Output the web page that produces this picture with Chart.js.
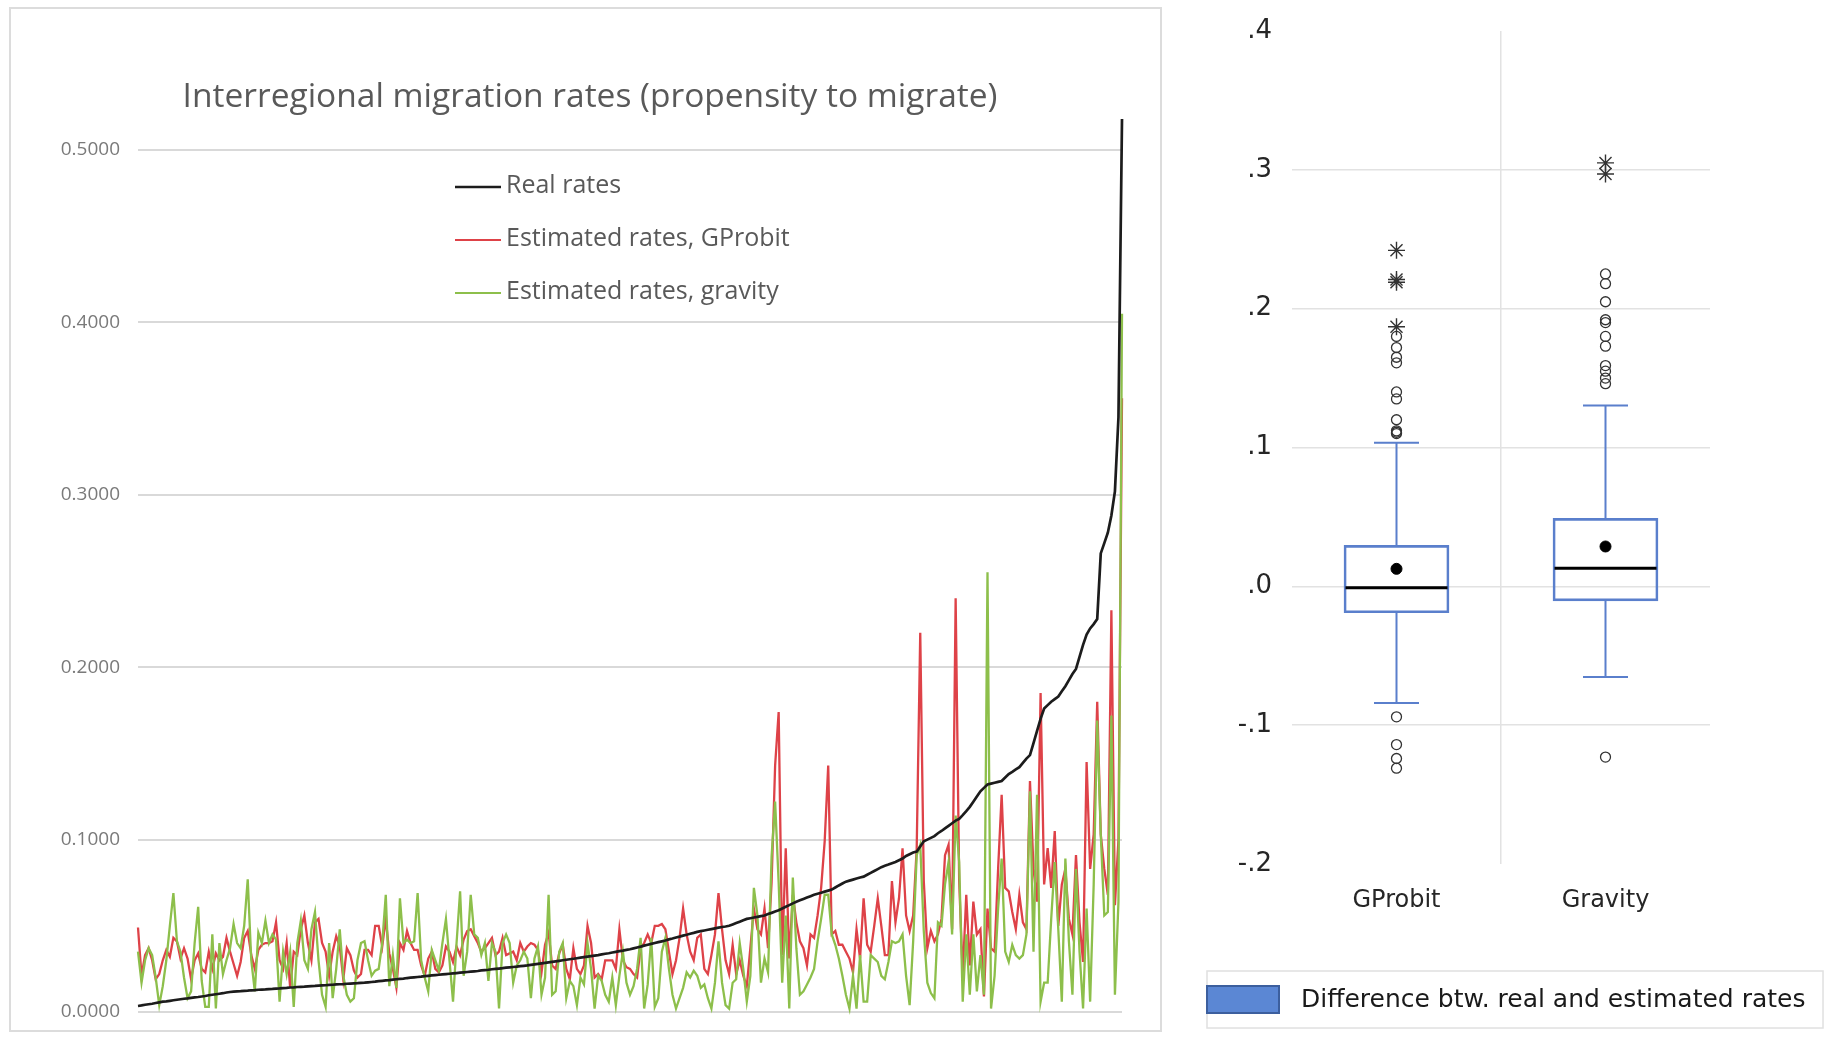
<!DOCTYPE html>
<html>
<head>
<meta charset="utf-8">
<script src="https://cdn.jsdelivr.net/npm/chart.js@4.4.1/dist/chart.umd.min.js"></script>
<style>
  html, body { margin: 0; padding: 0; background: #fff; width: 1829px; height: 1038px; overflow: hidden; }
  #lineWrap { position: absolute; left: 9px; top: 7px; width: 1153px; height: 1025px; border: 2px solid #dcdcdc; box-sizing: border-box; }
  #lineWrap canvas { position: absolute; left: 0; top: 0; }
  #boxWrap { position: absolute; left: 1195px; top: 0; width: 634px; height: 1038px; }
</style>
</head>
<body>
<div id="lineWrap"><canvas id="lineChart" width="1149" height="1021"></canvas></div>
<div id="boxWrap"><canvas id="boxChart" width="634" height="1038"></canvas></div>
<script>
// ---------- Interregional migration rates, pairs sorted by real rate ----------
const realRates = [
  0.0035, 0.0038, 0.0042, 0.0045, 0.0048, 0.0052, 0.0056, 0.0060, 0.0062, 0.0065,
  0.0068, 0.0071, 0.0074, 0.0077, 0.0079, 0.0082, 0.0085, 0.0087, 0.0090, 0.0093,
  0.0097, 0.0100, 0.0103, 0.0106, 0.0109, 0.0113, 0.0116, 0.0118, 0.0120, 0.0121,
  0.0123, 0.0124, 0.0126, 0.0127, 0.0129, 0.0130, 0.0131, 0.0133, 0.0134, 0.0136,
  0.0137, 0.0139, 0.0140, 0.0142, 0.0143, 0.0145, 0.0146, 0.0147, 0.0149, 0.0150,
  0.0151, 0.0153, 0.0154, 0.0155, 0.0157, 0.0158, 0.0160, 0.0161, 0.0162, 0.0164,
  0.0165, 0.0166, 0.0167, 0.0169, 0.0170, 0.0172, 0.0174, 0.0176, 0.0179, 0.0181,
  0.0183, 0.0185, 0.0188, 0.0190, 0.0192, 0.0194, 0.0197, 0.0199, 0.0201, 0.0203,
  0.0205, 0.0208, 0.0210, 0.0212, 0.0214, 0.0216, 0.0218, 0.0220, 0.0222, 0.0224,
  0.0226, 0.0228, 0.0230, 0.0232, 0.0234, 0.0236, 0.0238, 0.0241, 0.0243, 0.0245,
  0.0248, 0.0250, 0.0252, 0.0254, 0.0257, 0.0259, 0.0261, 0.0263, 0.0266, 0.0268,
  0.0270, 0.0273, 0.0276, 0.0279, 0.0282, 0.0285, 0.0288, 0.0291, 0.0294, 0.0297,
  0.0300, 0.0303, 0.0306, 0.0309, 0.0312, 0.0315, 0.0318, 0.0321, 0.0324, 0.0327,
  0.0330, 0.0334, 0.0338, 0.0341, 0.0345, 0.0349, 0.0353, 0.0356, 0.0360, 0.0364,
  0.0369, 0.0374, 0.0379, 0.0385, 0.0390, 0.0395, 0.0400, 0.0405, 0.0410, 0.0415,
  0.0421, 0.0426, 0.0432, 0.0437, 0.0443, 0.0448, 0.0454, 0.0459, 0.0465, 0.0469,
  0.0473, 0.0477, 0.0481, 0.0485, 0.0489, 0.0493, 0.0496, 0.0500, 0.0508, 0.0516,
  0.0524, 0.0532, 0.0540, 0.0544, 0.0548, 0.0552, 0.0556, 0.0560, 0.0568, 0.0575,
  0.0583, 0.0590, 0.0600, 0.0610, 0.0620, 0.0630, 0.0640, 0.0648, 0.0656, 0.0664,
  0.0672, 0.0680, 0.0686, 0.0692, 0.0698, 0.0704, 0.0710, 0.0722, 0.0734, 0.0745,
  0.0756, 0.0762, 0.0768, 0.0774, 0.0780, 0.0785, 0.0796, 0.0807, 0.0818, 0.0829,
  0.0840, 0.0848, 0.0855, 0.0863, 0.0870, 0.0880, 0.0890, 0.0905, 0.0915, 0.0925,
  0.0930, 0.0960, 0.0990, 0.1000, 0.1010, 0.1020, 0.1037, 0.1050, 0.1065, 0.1080,
  0.1095, 0.1110, 0.1120, 0.1142, 0.1165, 0.1190, 0.1220, 0.1250, 0.1280, 0.1300,
  0.1320, 0.1325, 0.1330, 0.1335, 0.1340, 0.1360, 0.1380, 0.1393, 0.1407, 0.1420,
  0.1445, 0.1470, 0.1490, 0.1560, 0.1630, 0.1700, 0.1760, 0.1780, 0.1800, 0.1815,
  0.1830, 0.1860, 0.1890, 0.1925, 0.1960, 0.1990, 0.2060, 0.2130, 0.2190, 0.2225,
  0.2250, 0.2280, 0.2660, 0.2720, 0.2780, 0.2880, 0.3020, 0.3450, 0.5180
];

const gprobitRates = [
  0.049, 0.021, 0.033, 0.037, 0.030, 0.019, 0.022, 0.030, 0.036, 0.032,
  0.043, 0.041, 0.031, 0.037, 0.031, 0.019, 0.030, 0.034, 0.025, 0.023,
  0.035, 0.025, 0.034, 0.030, 0.032, 0.043, 0.035, 0.028, 0.021, 0.029,
  0.043, 0.047, 0.033, 0.025, 0.036, 0.039, 0.040, 0.040, 0.041, 0.052,
  0.030, 0.025, 0.040, 0.014, 0.035, 0.033, 0.048, 0.056, 0.040, 0.030,
  0.052, 0.054, 0.040, 0.035, 0.021, 0.035, 0.044, 0.038, 0.019, 0.037,
  0.033, 0.024, 0.020, 0.022, 0.036, 0.036, 0.033, 0.050, 0.050, 0.038,
  0.054, 0.034, 0.025, 0.014, 0.040, 0.036, 0.047, 0.040, 0.036, 0.036,
  0.027, 0.021, 0.031, 0.035, 0.025, 0.023, 0.027, 0.038, 0.035, 0.029,
  0.038, 0.033, 0.042, 0.047, 0.048, 0.044, 0.040, 0.035, 0.037, 0.040,
  0.043, 0.033, 0.035, 0.043, 0.033, 0.034, 0.035, 0.030, 0.040, 0.035,
  0.038, 0.040, 0.039, 0.036, 0.023, 0.039, 0.046, 0.027, 0.025, 0.034,
  0.039, 0.025, 0.019, 0.037, 0.025, 0.022, 0.027, 0.050, 0.040, 0.020,
  0.022, 0.019, 0.030, 0.030, 0.030, 0.025, 0.048, 0.030, 0.026, 0.025,
  0.022, 0.020, 0.037, 0.040, 0.045, 0.040, 0.050, 0.050, 0.051, 0.048,
  0.035, 0.022, 0.030, 0.043, 0.060, 0.045, 0.035, 0.030, 0.043, 0.045,
  0.025, 0.022, 0.033, 0.045, 0.069, 0.048, 0.030, 0.022, 0.039, 0.022,
  0.030, 0.021, 0.015, 0.037, 0.060, 0.048, 0.045, 0.060, 0.037, 0.075,
  0.143, 0.174, 0.033, 0.095, 0.031, 0.068, 0.052, 0.041, 0.037, 0.027,
  0.045, 0.043, 0.056, 0.072, 0.099, 0.143, 0.045, 0.047, 0.039, 0.039,
  0.035, 0.031, 0.023, 0.048, 0.031, 0.066, 0.039, 0.035, 0.050, 0.066,
  0.050, 0.033, 0.033, 0.076, 0.052, 0.066, 0.095, 0.056, 0.047, 0.056,
  0.095, 0.220, 0.076, 0.037, 0.047, 0.041, 0.045, 0.054, 0.091, 0.097,
  0.048, 0.240, 0.076, 0.021, 0.068, 0.027, 0.064, 0.045, 0.048, 0.009,
  0.060, 0.037, 0.035, 0.083, 0.126, 0.072, 0.070, 0.058, 0.048, 0.068,
  0.052, 0.048, 0.134, 0.083, 0.064, 0.185, 0.074, 0.095, 0.072, 0.105,
  0.050, 0.074, 0.083, 0.054, 0.045, 0.091, 0.052, 0.029, 0.145, 0.083,
  0.103, 0.180, 0.103, 0.083, 0.068, 0.233, 0.062, 0.100, 0.356
];

const gravityRates = [
  0.035, 0.017, 0.030, 0.037, 0.033, 0.020, 0.004, 0.015, 0.030, 0.050,
  0.069, 0.041, 0.035, 0.020, 0.008, 0.012, 0.040, 0.061, 0.018, 0.003,
  0.003, 0.045, 0.002, 0.040, 0.022, 0.030, 0.037, 0.051, 0.040, 0.037,
  0.050, 0.077, 0.030, 0.012, 0.046, 0.040, 0.053, 0.040, 0.045, 0.042,
  0.006, 0.035, 0.022, 0.035, 0.003, 0.040, 0.053, 0.030, 0.025, 0.048,
  0.058, 0.030, 0.010, 0.003, 0.040, 0.008, 0.025, 0.048, 0.021, 0.010,
  0.006, 0.008, 0.030, 0.040, 0.041, 0.030, 0.021, 0.024, 0.025, 0.040,
  0.068, 0.015, 0.033, 0.014, 0.066, 0.040, 0.042, 0.040, 0.041, 0.069,
  0.030, 0.020, 0.012, 0.036, 0.030, 0.024, 0.040, 0.054, 0.030, 0.006,
  0.040, 0.070, 0.021, 0.035, 0.068, 0.045, 0.043, 0.033, 0.040, 0.018,
  0.040, 0.035, 0.002, 0.040, 0.045, 0.040, 0.017, 0.027, 0.030, 0.035,
  0.031, 0.008, 0.031, 0.038, 0.010, 0.020, 0.068, 0.010, 0.012, 0.035,
  0.040, 0.008, 0.018, 0.015, 0.004, 0.020, 0.016, 0.040, 0.025, 0.002,
  0.021, 0.018, 0.010, 0.006, 0.020, 0.004, 0.021, 0.035, 0.017, 0.010,
  0.015, 0.025, 0.043, 0.002, 0.016, 0.043, 0.003, 0.008, 0.035, 0.043,
  0.025, 0.010, 0.002, 0.008, 0.014, 0.023, 0.020, 0.024, 0.021, 0.014,
  0.016, 0.008, 0.002, 0.017, 0.041, 0.017, 0.004, 0.002, 0.017, 0.019,
  0.040, 0.025, 0.006, 0.021, 0.072, 0.056, 0.017, 0.031, 0.023, 0.090,
  0.122, 0.075, 0.017, 0.056, 0.002, 0.078, 0.037, 0.010, 0.012, 0.016,
  0.020, 0.025, 0.041, 0.054, 0.068, 0.068, 0.045, 0.039, 0.031, 0.021,
  0.010, 0.002, 0.021, 0.002, 0.033, 0.006, 0.006, 0.033, 0.031, 0.029,
  0.021, 0.019, 0.029, 0.041, 0.040, 0.041, 0.045, 0.021, 0.004, 0.041,
  0.091, 0.097, 0.047, 0.017, 0.011, 0.008, 0.052, 0.050, 0.074, 0.087,
  0.045, 0.114, 0.087, 0.006, 0.045, 0.010, 0.045, 0.012, 0.033, 0.010,
  0.255, 0.002, 0.021, 0.060, 0.089, 0.035, 0.029, 0.039, 0.033, 0.031,
  0.033, 0.045, 0.128, 0.035, 0.126, 0.006, 0.017, 0.017, 0.054, 0.087,
  0.048, 0.006, 0.089, 0.041, 0.010, 0.083, 0.035, 0.002, 0.060, 0.006,
  0.074, 0.169, 0.103, 0.056, 0.058, 0.172, 0.010, 0.064, 0.405
];

const pairIndex = realRates.map((_, i) => i + 1);
const lineTitle = 'Interregional migration rates (propensity to migrate)';
const seriesNames = ['Real rates', 'Estimated rates, GProbit', 'Estimated rates, gravity'];
const rateTicks = [0, 0.1, 0.2, 0.3, 0.4, 0.5];

// ---------- Difference between real and estimated rates ----------
const models = ['GProbit', 'Gravity'];
const boxQ1 = [-0.019, -0.0105];
const boxMedian = [-0.001, 0.013];
const boxQ3 = [0.0295, 0.0489];
const whiskerLow = [-0.084, -0.0653];
const whiskerHigh = [0.1035, 0.1303];
const boxMean = [0.0126, 0.0287];
const gprobitOutliers = [0.180, 0.172, 0.165, 0.161, 0.140, 0.135, 0.120, 0.112, 0.111, 0.110, -0.094, -0.114, -0.124, -0.131];
const gprobitExtremes = [0.242, 0.221, 0.219, 0.187];
const gravityOutliers = [0.225, 0.218, 0.205, 0.192, 0.190, 0.180, 0.173, 0.159, 0.155, 0.150, 0.146, -0.123];
const gravityExtremes = [0.305, 0.297];
const diffTicks = [-0.2, -0.1, 0, 0.1, 0.2, 0.3, 0.4];
const boxLegendLabel = 'Difference btw. real and estimated rates';

const COLORS = { real: '#1c1c1c', gprobit: '#de4248', gravity: '#8dbf4b', box: '#5a7fcc' };

// Title and legend of the line chart (the legend sits inside the plot area)
const lineDecor = {
  id: 'lineDecor',
  afterDraw(chart) {
    const ctx = chart.ctx;
    ctx.save();
    ctx.fillStyle = '#595959';
    ctx.font = '33.5px "Open Sans"';
    ctx.textAlign = 'center';
    ctx.textBaseline = 'middle';
    ctx.fillText(lineTitle, 579, 88);

    const rows = [
      { ds: 0, y: 177 }, { ds: 1, y: 230 }, { ds: 2, y: 283 }
    ];
    ctx.font = '25px "Open Sans"';
    ctx.textAlign = 'left';
    rows.forEach(r => {
      const ds = chart.data.datasets[r.ds];
      ctx.strokeStyle = ds.borderColor;
      ctx.lineWidth = r.ds === 0 ? 2.5 : 2;
      ctx.beginPath();
      ctx.moveTo(444, r.y + 1);
      ctx.lineTo(490, r.y + 1);
      ctx.stroke();
      ctx.fillText(ds.label, 495, r.y);
    });
    ctx.restore();
  }
};

new Chart(document.getElementById('lineChart'), {
  type: 'line',
  data: {
    labels: pairIndex,
    datasets: [
      { label: seriesNames[0], data: realRates, borderColor: COLORS.real, borderWidth: 2.7, order: 0 },
      { label: seriesNames[1], data: gprobitRates, borderColor: COLORS.gprobit, borderWidth: 2.3, order: 2 },
      { label: seriesNames[2], data: gravityRates, borderColor: COLORS.gravity, borderWidth: 2.3, order: 1 }
    ]
  },
  options: {
    responsive: false,
    animation: false,
    events: [],
    layout: { padding: { left: 0, right: 38, top: 141, bottom: 18 } },
    elements: { point: { radius: 0 }, line: { tension: 0, fill: false } },
    datasets: { line: { clip: false } },
    plugins: {
      legend: { display: false },
      tooltip: { enabled: false },
      title: { display: false }
    },
    scales: {
      x: { type: 'category', display: false },
      y: {
        min: 0, max: 0.5,
        afterBuildTicks: s => { s.ticks = rateTicks.map(v => ({ value: v })); },
        afterFit: s => { s.width = 127; s.paddingTop = 0; s.paddingBottom = 0; },
        border: { display: false },
        grid: { color: '#d9d9d9', lineWidth: 2, drawTicks: false },
        ticks: {
          padding: 18,
          color: '#7a7a7a',
          font: { family: '"Open Sans"', size: 19 },
          callback: v => Number(v).toFixed(4)
        }
      }
    }
  },
  plugins: [lineDecor]
});

// Whiskers, medians and the legend box of the box plot
const boxParts = {
  id: 'boxParts',
  beforeDatasetsDraw(chart) {
    const ctx = chart.ctx, xs = chart.scales.x, ys = chart.scales.y;
    ctx.save();
    ctx.strokeStyle = COLORS.box;
    ctx.lineWidth = 2;
    models.forEach((m, i) => {
      const x = xs.getPixelForValue(i);
      const cap = 22.5;
      const segs = [[boxQ3[i], whiskerHigh[i]], [boxQ1[i], whiskerLow[i]]];
      segs.forEach(([a, b]) => {
        ctx.beginPath();
        ctx.moveTo(x, ys.getPixelForValue(a));
        ctx.lineTo(x, ys.getPixelForValue(b));
        ctx.moveTo(x - cap, ys.getPixelForValue(b));
        ctx.lineTo(x + cap, ys.getPixelForValue(b));
        ctx.stroke();
      });
    });
    ctx.restore();
  },
  afterDatasetDraw(chart, args) {
    if (args.index !== 0) return;
    const ctx = chart.ctx, xs = chart.scales.x, ys = chart.scales.y;
    ctx.save();
    models.forEach((m, i) => {
      const x = xs.getPixelForValue(i);
      const y = ys.getPixelForValue(boxMedian[i]);
      ctx.strokeStyle = '#000';
      ctx.lineWidth = 3;
      ctx.beginPath();
      ctx.moveTo(x - 51, y);
      ctx.lineTo(x + 51, y);
      ctx.stroke();
    });
    ctx.restore();
  },
  afterDraw(chart) {
    const ctx = chart.ctx;
    ctx.save();
    ctx.strokeStyle = '#e0e0e0';
    ctx.lineWidth = 1.5;
    ctx.strokeRect(12, 971, 616, 57);
    ctx.fillStyle = '#5b87d4';
    ctx.fillRect(12, 986, 72, 27);
    ctx.strokeStyle = '#3c5f9e';
    ctx.lineWidth = 2;
    ctx.strokeRect(12, 986, 72, 27);
    ctx.fillStyle = '#1a1a1a';
    ctx.font = '25px "DejaVu Sans"';
    ctx.textBaseline = 'middle';
    ctx.fillText(boxLegendLabel, 106, 1000);
    ctx.restore();
  }
};

const pointsFor = (label, values) => values.map(v => ({ x: label, y: v }));

new Chart(document.getElementById('boxChart'), {
  type: 'bar',
  data: {
    labels: models,
    datasets: [
      {
        type: 'bar',
        data: models.map((m, i) => [boxQ1[i], boxQ3[i]]),
        backgroundColor: 'rgba(255,255,255,0)',
        borderColor: COLORS.box,
        borderWidth: 2,
        borderSkipped: false,
        barThickness: 105,
        order: 5
      },
      {
        type: 'scatter',
        data: [...pointsFor(models[0], gprobitOutliers), ...pointsFor(models[1], gravityOutliers)],
        pointStyle: 'circle', pointRadius: 5,
        backgroundColor: 'rgba(255,255,255,0)', borderColor: '#333', borderWidth: 1.3,
        order: 2
      },
      {
        type: 'scatter',
        data: [...pointsFor(models[0], gprobitExtremes), ...pointsFor(models[1], gravityExtremes)],
        pointStyle: 'star', pointRadius: 8.5,
        backgroundColor: 'rgba(255,255,255,0)', borderColor: '#333', borderWidth: 1.4,
        order: 1
      },
      {
        type: 'scatter',
        data: models.map((m, i) => ({ x: m, y: boxMean[i] })),
        pointStyle: 'circle', pointRadius: 5.5,
        backgroundColor: '#000', borderColor: '#000', borderWidth: 1,
        order: 0
      }
    ]
  },
  options: {
    responsive: false,
    animation: false,
    events: [],
    layout: { padding: { left: 0, right: 119, top: 31, bottom: 114 } },
    plugins: { legend: { display: false }, tooltip: { enabled: false } },
    scales: {
      x: {
        type: 'category',
        offset: true,
        afterFit: s => { s.height = 60; s.paddingLeft = 0; s.paddingRight = 0; },
        border: { display: false },
        grid: {
          offset: true,
          drawTicks: false,
          lineWidth: 1.5,
          color: c => (c.index === 1 ? '#e2e2e2' : 'rgba(0,0,0,0)')
        },
        ticks: { padding: 22, color: '#262626', font: { family: '"DejaVu Sans"', size: 24 } }
      },
      y: {
        min: -0.2, max: 0.4,
        afterBuildTicks: s => { s.ticks = diffTicks.map(v => ({ value: v })); },
        afterFit: s => { s.width = 97; s.paddingTop = 0; s.paddingBottom = 0; },
        border: { display: false },
        grid: {
          drawTicks: false,
          lineWidth: 1.5,
          color: c => (c.tick && (c.tick.value > 0.35 || c.tick.value < -0.15) ? 'rgba(0,0,0,0)' : '#e2e2e2')
        },
        ticks: {
          padding: 20,
          color: '#262626',
          font: { family: '"DejaVu Sans"', size: 26 },
          callback: v => {
            if (Math.abs(v) < 1e-9) return '.0';
            return (v < 0 ? '-' : '') + '.' + Math.round(Math.abs(v) * 10);
          }
        }
      }
    }
  },
  plugins: [boxParts]
});
</script>
</body>
</html>
